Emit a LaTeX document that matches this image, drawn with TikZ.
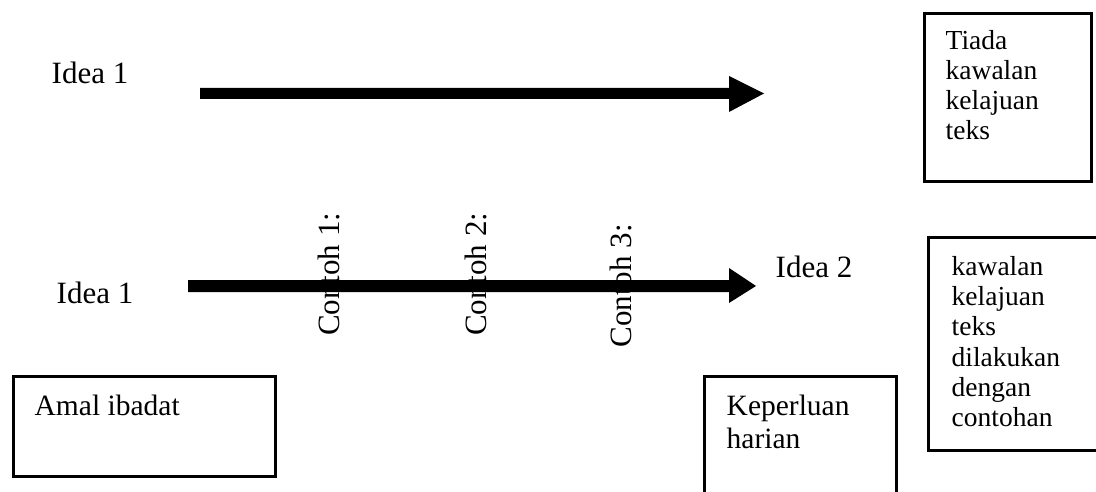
\documentclass[tikz,border=0pt]{standalone}
\usepackage{fontspec}
\newfontfamily\tnr{Liberation Serif}
\begin{document}
\begin{tikzpicture}[x=1pt,y=-1pt,
  boxline/.style={draw=black,line width=3pt},
  arrowfill/.style={fill=black},
  idea/.style={inner sep=0pt,anchor=base west,font=\tnr\fontsize{31}{31}\selectfont},
  boxtext/.style={inner sep=0pt,anchor=base west},
  contoh/.style={inner sep=0pt,anchor=base west,rotate=90,font=\tnr\fontsize{31}{31}\selectfont}]
\useasboundingbox (0,0) rectangle (1096,492);
% boxes
\draw[boxline] (924.5,13.5) rectangle (1091.5,181.5);
\draw[boxline] (928.5,237.5) rectangle (1102,450);
\draw[boxline] (13.5,376.5) rectangle (275.5,476.5);
\draw[boxline] (896.5,500) -- (896.5,376.5) -- (704.5,376.5) -- (704.5,500);
% box texts
\node[boxtext] (tiada) at (945.5,50) {\tnr\fontsize{27.5}{30}\selectfont\vtop{\baselineskip=30pt\hbox{Tiada}\hbox{kawalan}\hbox{kelajuan}\hbox{teks}}};
\node[boxtext] (kawalan) at (951.5,275) {\tnr\fontsize{27.5}{30.4}\selectfont\vtop{\baselineskip=30.4pt\hbox{kawalan}\hbox{kelajuan}\hbox{teks}\hbox{dilakukan}\hbox{dengan}\hbox{contohan}}};
\node[boxtext] (amal) at (34.5,415) {\tnr\fontsize{29.5}{33}\selectfont Amal ibadat};
\node[boxtext] (keperluan) at (726.5,415) {\tnr\fontsize{29.5}{33}\selectfont\vtop{\baselineskip=33pt\hbox{Keperluan}\hbox{harian}}};
% idea labels
\node[idea] (idea1a) at (51.5,84) {Idea 1};
\node[idea] (idea1b) at (56.5,303) {Idea 1};
\node[idea] (idea2) at (775.5,277) {Idea 2};
% arrows
\coordinate (a1s) at (200,93.5);
\coordinate (a1t) at (764,93.5);
\fill[arrowfill] (200,88) -- (729,88) -- (729,76) -- (a1t) -- (729,112) -- (729,99) -- (200,99) -- cycle;
\coordinate (a2s) at (188,286);
\coordinate (a2t) at (756,286);
\fill[arrowfill] (188,280) -- (729,280) -- (729,268) -- (a2t) -- (729,303) -- (729,292) -- (188,292) -- cycle;
% contoh labels
\node[contoh] (c1) at (339.5,336) {Contoh 1:};
\node[contoh] (c2) at (486.5,336) {Contoh 2:};
\node[contoh] (c3) at (631.5,347.5) {Contoh 3:};
\end{tikzpicture}
\end{document}
